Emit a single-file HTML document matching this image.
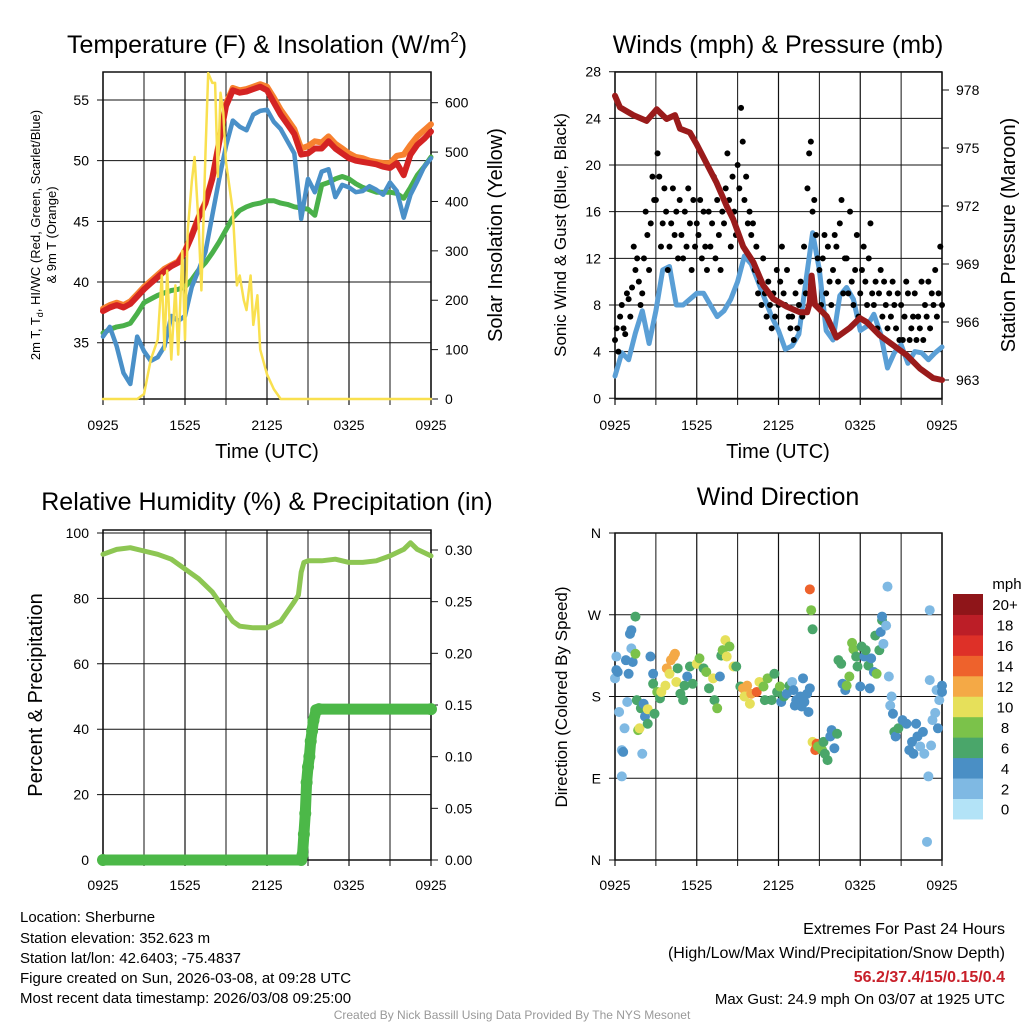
<!DOCTYPE html>
<html><head><meta charset="utf-8"><style>
html,body{margin:0;padding:0;background:#fff}
svg{display:block;font-family:"Liberation Sans",sans-serif}
</style></head><body>
<svg id="chart" width="1024" height="1024" viewBox="0 0 1024 1024" xmlns="http://www.w3.org/2000/svg">
<rect width="1024" height="1024" fill="#fff"/>
<g id="layer"></g>

<text x="267" y="53" font-size="25" text-anchor="middle">Temperature (F) &amp; Insolation (W/m<tspan font-size="15" dy="-11">2</tspan><tspan dy="11">)</tspan></text>
<text x="778" y="53" font-size="25" text-anchor="middle">Winds (mph) &amp; Pressure (mb)</text>
<text x="267" y="510" font-size="25" text-anchor="middle">Relative Humidity (%) &amp; Precipitation (in)</text>
<text x="778" y="505" font-size="25" text-anchor="middle">Wind Direction</text>

<text x="267" y="458" font-size="20" text-anchor="middle">Time (UTC)</text>
<text x="778" y="458" font-size="20" text-anchor="middle">Time (UTC)</text>

<text transform="translate(40,235) rotate(-90)" font-size="13" text-anchor="middle">2m T, T<tspan font-size="9" dy="3">d</tspan><tspan dy="-3">, HI/WC (Red, Green, Scarlet/Blue)</tspan></text>
<text transform="translate(56,235) rotate(-90)" font-size="13" text-anchor="middle">&amp; 9m T (Orange)</text>
<text transform="translate(502,235) rotate(-90)" font-size="20" text-anchor="middle">Solar Insolation (Yellow)</text>
<text transform="translate(566,235) rotate(-90)" font-size="17" text-anchor="middle">Sonic Wind &amp; Gust (Blue, Black)</text>
<text transform="translate(1015,235) rotate(-90)" font-size="20" text-anchor="middle">Station Pressure (Maroon)</text>
<text transform="translate(42,695) rotate(-90)" font-size="20" text-anchor="middle">Percent &amp; Precipitation</text>
<text transform="translate(567,697) rotate(-90)" font-size="17" text-anchor="middle">Direction (Colored By Speed)</text>

<g font-size="15">
<text x="20" y="922">Location: Sherburne</text>
<text x="20" y="943">Station elevation: 352.623 m</text>
<text x="20" y="963">Station lat/lon: 42.6403; -75.4837</text>
<text x="20" y="983">Figure created on Sun, 2026-03-08, at 09:28 UTC</text>
<text x="20" y="1003">Most recent data timestamp: 2026/03/08 09:25:00</text>
</g>
<g font-size="16" text-anchor="end">
<text x="1005" y="934">Extremes For Past 24 Hours</text>
<text x="1005" y="958">(High/Low/Max Wind/Precipitation/Snow Depth)</text>
<text x="1005" y="982" fill="#c8202a" font-weight="bold">56.2/37.4/15/0.15/0.4</text>
<text x="1005" y="1004" font-size="15">Max Gust: 24.9 mph On 03/07 at 1925 UTC</text>
</g>
<text x="512" y="1019" font-size="12" fill="#999" text-anchor="middle">Created By Nick Bassill Using Data Provided By The NYS Mesonet</text>
</svg>
<script>
// ---------- Panel 1 data (half-hourly, hours 0..24) ----------
const tempRed = [37.6,37.9,38.1,37.9,38.2,38.8,39.4,39.9,40.4,40.9,41.3,41.6,42.5,43.8,45.3,46.5,48.5,51.5,54.5,55.8,55.6,55.7,55.9,56.1,55.8,54.8,53.8,53.0,52.2,50.5,50.6,51.0,51.0,51.6,51.0,50.6,50.2,50.0,49.9,49.8,49.7,49.5,49.4,49.8,48.8,50.5,51.3,51.8,52.4];
const tempOrange = [37.8,38.1,38.3,38.1,38.4,39.0,39.6,40.1,40.6,41.1,41.4,41.7,42.6,43.9,45.4,46.6,48.6,51.6,54.7,56.0,55.8,55.9,56.1,56.3,56.1,55.2,54.2,53.4,52.6,51.0,51.2,51.6,51.5,52.0,51.4,51.0,50.6,50.3,50.2,50.0,49.9,49.8,49.8,50.4,50.5,51.3,52.0,52.5,53.0];
const dewGreen = [35.8,36.1,36.3,36.4,36.6,37.4,38.3,38.6,38.9,39.1,39.3,39.4,39.6,40.2,41.0,41.6,42.4,43.3,44.3,45.3,45.9,46.2,46.4,46.5,46.7,46.7,46.5,46.4,46.2,46.1,46.0,45.5,48.0,48.2,48.5,48.7,48.5,48.1,47.8,47.6,47.4,47.4,47.4,47.3,46.9,47.8,48.8,49.5,50.3];
const wcBlue = [35.5,36.3,34.7,32.5,31.6,35.5,34.3,33.5,33.8,34.7,37.2,36.8,37.2,39.6,41.0,42.5,45.5,48.5,51.2,53.3,52.8,52.5,53.8,54.1,54.2,53.2,52.6,51.6,50.6,45.2,48.5,47.4,49.1,49.3,47.0,48.0,47.8,47.4,47.5,47.9,47.6,47.2,48.2,47.5,45.3,47.2,48.3,49.5,50.2];
const solarHours = [0,2.5,3,3.5,4,4.3,4.5,4.7,5,5.3,5.5,5.8,6,6.2,6.5,6.7,7,7.2,7.5,7.7,8,8.2,8.4,8.6,8.8,9,9.3,9.5,9.8,10,10.3,10.5,10.8,11,11.3,11.5,12,12.5,13,24];
const solarValues = [0,0,10,80,120,250,100,260,80,230,90,300,120,340,440,490,350,220,500,660,640,640,450,620,580,480,420,380,230,250,200,180,250,150,210,100,50,20,0,0];
const tempTicks = [35,40,45,50,55];
const solarTicks = [0,100,200,300,400,500,600];
const timeLabels = ["0925","1525","2125","0325","0925"];

// ---------- Panel 2 data ----------
const windSpeed = [1.9,3.9,3.3,5.6,7.5,4.7,7.5,11,11.3,8,8,8.5,9,9,8,7,7.5,8.5,10,12.2,11.5,10,8.5,7,5.8,4.2,4.5,5.5,10,14.2,11,5.8,5,8.8,9.5,8.5,5.8,6.2,7.2,5.5,2.6,3.9,4.6,3,4,3.9,3.3,3.9,4.4];
const gustSpeed = [5,6,4,7,8,6,5.5,9, 8.5,7,9.5,13,11,12,10,8, 9,12,16,14,11,15,19,17, 17,21,19,13,15,18,16,11, 13,15,18,14,16,12,17,14, 12,16,13,18,15,11,17,13, 15,14,17,12,16,13,11,16, 13,15,19,12,17,14,11,16, 15,18,21,17,13,19,16,14, 20,18,24.9,22,17,19,15,16, 14,15,11,13,9,10,8,12, 9,7,10,8,6,9,7,11, 8,10,13,9,8,11,7,6, 7,5,9,6,8,10,7,13, 9,18,21,22,16,17,14,12, 11,8,12,14,9,13,10,8, 11,14,13,10,15,17,9,12, 12,9,16,10,8,11,14,7, 9,11,13,10,8,12,15,9, 8,10,6,9,11,7,10,8, 6,9,7,10,8,6,9,5, 8,5,7,10,9,5,6,7, 9,5,7,6,10,5,8,7, 10,6,9,8,11,7,9,13, 8];
const pressHours = [0,0.37,1.34,2.32,3.06,3.79,4.4,4.77,5.5,5.99,6.72,7.46,8.19,8.68,9.41,10.15,10.88,11.61,12.59,13.57,14.1,14.3,14.43,14.67,15.53,16.26,17.24,17.97,18.46,19.44,20.42,21.39,22.37,23.35,24];
const pressValues = [977.7,977.1,976.7,976.4,977.0,976.5,976.7,976.0,975.8,975.2,974.2,973.2,972.0,971.3,969.9,969.1,967.9,967.2,966.8,966.5,966.5,967.0,968.4,966.9,966.3,965.2,965.7,966.2,966.0,965.3,964.8,964.3,963.6,963.1,963.0];
const windTicks = [0,4,8,12,16,20,24,28];
const pressTicks = [963,966,969,972,975,978];

// ---------- Panel 3 data ----------
const rhHours = [0,1,2,3,4,5,6,7,8,9,9.5,10,11,12,13,13.5,14,14.3,14.5,14.7,15,16,17,18,19,20,21,22,22.5,23,24];
const rhValues = [93.5,95,95.5,94.5,93.5,92,89,86,82,76,73,71.5,71,71,73,76,79,81,88,91,91.5,91.5,92,91,91,91.5,93,95,97,95,93];
const precipHours = [0,14.5,14.6,14.7,14.8,14.9,15.0,15.1,15.2,15.3,15.4,15.6,15.8,24];
const precipValues = [0,0,0.005,0.025,0.045,0.075,0.09,0.1,0.115,0.125,0.135,0.145,0.146,0.146];
const rhTicks = [0,20,40,60,80,100];
const precipTicks = [0,0.05,0.10,0.15,0.20,0.25,0.30];
const precipLabels = ["0.00","0.05","0.10","0.15","0.20","0.25","0.30"];

// ---------- Panel 4 data ----------
const dirHours = [0.0,0.1,0.1,0.2,0.3,0.5,0.6,0.5,0.7,0.8,0.9,1.0,1.1,1.2,1.2,1.3,1.5,1.5,1.6,1.7,1.8,1.9,2.0,2.1,2.2,2.4,2.4,2.6,2.8,2.8,2.9,3.1,3.3,3.4,3.7,3.8,4.0,4.1,4.3,4.4,4.5,4.6,4.8,5.0,5.1,5.3,5.5,5.7,6.0,6.2,6.5,6.7,6.9,7.2,7.3,7.5,7.7,7.8,7.9,8.1,8.2,8.4,8.7,8.9,9.2,9.4,9.5,9.7,9.9,10.0,10.4,10.6,10.9,11.0,11.2,11.5,11.7,11.9,12.1,12.2,12.4,12.6,12.8,13.0,13.1,13.2,13.3,13.6,13.7,13.8,13.9,14.1,14.2,14.3,14.3,14.4,14.5,14.5,14.7,14.8,14.9,15.2,15.3,15.4,15.6,15.8,15.9,16.1,16.3,16.4,16.6,16.7,16.9,17.0,17.2,17.4,17.5,17.7,17.8,18.0,18.1,18.3,18.4,18.6,18.7,18.8,19.0,19.1,19.2,19.4,19.5,19.6,19.6,19.7,19.9,20.0,20.1,20.3,20.2,20.4,20.5,20.6,20.8,21.1,21.4,21.6,21.8,21.9,22.1,22.2,22.4,22.6,22.7,22.9,23.0,23.1,23.1,23.2,23.3,23.5,23.6,23.7,23.8,24.0,24.0];
const dirDegrees = [200,209,224,207,163,121,119,92,145,220,174,205,249,253,233,218,268,227,176,143,145,167,117,172,158,166,150,224,205,194,161,185,178,185,192,211,205,220,224,227,196,211,183,176,192,202,213,194,216,222,211,207,189,200,176,167,202,225,231,242,224,235,213,213,191,189,180,192,172,183,185,196,191,176,200,176,205,185,191,174,180,183,192,196,187,170,176,180,169,200,174,183,163,189,298,275,254,130,121,128,125,121,130,117,110,136,143,123,139,220,216,194,187,192,202,239,232,224,213,191,235,224,231,214,189,222,207,247,205,231,251,264,268,238,258,301,202,180,170,161,141,136,145,154,150,121,130,117,150,136,125,141,117,20,92,275,198,126,154,162,187,145,176,192,185];
const dirSpeeds = [3,5,3,5,3,3,5,3,3,5,3,5,5,5,3,5,7,9,7,9,11,7,3,5,5,11,7,5,5,7,7,9,7,11,11,13,11,13,13,13,11,7,7,7,7,5,7,7,11,9,7,9,7,11,7,9,5,7,9,11,11,9,11,7,7,13,11,13,11,13,15,11,9,7,9,7,7,7,9,5,7,5,7,3,5,5,5,5,5,5,5,5,5,5,15,9,7,11,15,15,9,9,7,7,7,5,5,5,7,7,7,5,5,9,9,9,9,7,7,5,7,5,7,7,5,5,5,7,9,7,5,7,5,3,3,3,3,3,3,5,7,5,7,5,5,5,5,5,5,5,3,5,3,3,3,3,3,3,3,3,3,5,3,5,5,5];
const dirTicks = [0,90,180,270,360];
const dirLabels = ["N","E","S","W","N"];
const speedBins = ["0","2","4","6","8","10","12","14","16","18","20+"];
const binColors = ["#b3e3f7","#7fb9e3","#4a8fc5","#4aa66a","#7bc24a","#e6e05a","#f4a946","#ee622c","#de3028","#bc1e27","#8f1519"];

// ---------- helpers ----------
const NS = "http://www.w3.org/2000/svg";
const layer = document.getElementById('layer');
function mk(tag, attrs, parent){
  const e = document.createElementNS(NS, tag);
  for (const k in attrs) e.setAttribute(k, attrs[k]);
  (parent||layer).appendChild(e);
  return e;
}
function scale(d0,d1,r0,r1){ return v => r0 + (v-d0)/(d1-d0)*(r1-r0); }

const P1 = {x0:103,x1:431,y0:72,y1:399};
const P2 = {x0:615,x1:942,y0:72,y1:399};
const P3 = {x0:103,x1:431,y0:530,y1:860};
const P4 = {x0:615,x1:942,y0:533,y1:860};

function frame(P, name, yL, leftTicks, leftLabels, yR, rightTicks, rightLabels, xLabelY){
  const g = mk('g', {});
  
  
  const xs = scale(0,24,P.x0,P.x1);
  for (let h=0; h<=24; h+=3){
    const l = mk('line',{x1:xs(h),x2:xs(h),y1:P.y0,y2:P.y1+6,stroke:'#111','stroke-width':(h%6===0?1.2:1)},g);
    
    
  }
  for (let i=0;i<5;i++){
    const t = mk('text',{x:xs(i*6),y:xLabelY,'font-size':14,'text-anchor':'middle'},g);
    
    
    t.textContent = timeLabels[i];
  }
  leftTicks.forEach((v,i)=>{
    const y = yL(v);
    const l = mk('line',{x1:P.x0-6,x2:P.x1,y1:y,y2:y,stroke:'#111','stroke-width':1},g);
    
    
    const t = mk('text',{x:P.x0-14,y:y+5,'font-size':14,'text-anchor':'end'},g);
    
    
    t.textContent = leftLabels[i];
  });
  if (yR){
    rightTicks.forEach((v,i)=>{
      const y = yR(v);
      mk('line',{x1:P.x1,x2:P.x1+7,y1:y,y2:y,stroke:'#111','stroke-width':1},g);
      const t = mk('text',{x:P.x1+14,y:y+5,'font-size':14,'text-anchor':'start'},g);
      
      
      t.textContent = rightLabels[i];
    });
  }
  mk('rect',{x:P.x0,y:P.y0,width:P.x1-P.x0,height:P.y1-P.y0,fill:'none',stroke:'#111','stroke-width':1.5},g);
  return xs;
}
function poly(pts, attrs, name){
  const p = mk('polyline', Object.assign({fill:'none','stroke-linejoin':'round','stroke-linecap':'round'}, attrs));
  p.setAttribute('points', pts.map(q=>q[0].toFixed(1)+','+q[1].toFixed(1)).join(' '));
  
  
  return p;
}

// ---------- Panel 1 ----------
{
  const yL = scale(35,55,342.7,100);
  const yR = scale(0,600,399,102.7);
  const xs = frame(P1,'temp',yL,tempTicks,tempTicks.map(String),yR,solarTicks,solarTicks.map(String),430);
  const half = (arr)=>arr.map((v,i)=>[xs(i*0.5), yL(v)]);
  poly(half(tempOrange),{stroke:'#f7812f','stroke-width':6},'temp-9m-orange-line');
  poly(half(tempRed),{stroke:'#d42323','stroke-width':6},'temp-2m-red-line');
  poly(half(dewGreen),{stroke:'#4ab04a','stroke-width':5},'dewpoint-green-line');
  poly(half(wcBlue),{stroke:'#4a90c8','stroke-width':4.5},'windchill-blue-line');
  poly(solarHours.map((h,i)=>[xs(h), yR(solarValues[i])]),{stroke:'#f9e04f','stroke-width':2.5},'solar-yellow-line');
}

// ---------- Panel 2 ----------
{
  const yL = scale(0,28,398.3,71.7);
  const yR = scale(963,978,380,90);
  const xs = frame(P2,'wind',yL,windTicks,windTicks.map(String),yR,pressTicks,pressTicks.map(String),430);
  poly(windSpeed.map((v,i)=>[xs(i*0.5), yL(v)]),{stroke:'#5a9fd6','stroke-width':5},'sonic-wind-blue-line');
  const gg = mk('g',{});
  
  
  gustSpeed.forEach((v,i)=>{
    const c = mk('circle',{cx:xs(i*0.125),cy:yL(v),r:3,fill:'#000'},gg);
    
    
  });
  poly(pressHours.map((h,i)=>[xs(h), yR(pressValues[i])]),{stroke:'#9a1b1b','stroke-width':6},'pressure-maroon-line');
}

// ---------- Panel 3 ----------
{
  const yL = scale(0,100,860,533);
  const yR = scale(0,0.30,860,550);
  const xs = frame(P3,'rh',yL,rhTicks,rhTicks.map(String),yR,precipTicks,precipLabels,890);
  poly(rhHours.map((h,i)=>[xs(h), yL(rhValues[i])]),{stroke:'#8dc653','stroke-width':5},'rh-line');
  poly(precipHours.map((h,i)=>[xs(h), yR(precipValues[i])]),{stroke:'#4cb848','stroke-width':11},'precip-line');
  precipHours.forEach((h,i)=>{
    const c = mk('circle',{cx:xs(h),cy:yR(precipValues[i]),r:6,fill:'#4cb848'});
    
    
  });
}

// ---------- Panel 4 ----------
{
  const yD = scale(0,360,860,533);
  const xs = frame(P4,'wdir',yD,dirTicks,dirLabels,null,null,null,890);
  const gg = mk('g',{});
  
  
  dirHours.forEach((h,i)=>{
    const b = Math.min(10, Math.floor(dirSpeeds[i]/2));
    const c = mk('circle',{cx:xs(h),cy:yD(dirDegrees[i]),r:5,fill:binColors[b]},gg);
    
    
  });
  const lg = mk('g',{});
  
  
  const t0 = mk('text',{x:1007,y:589,'font-size':15,'text-anchor':'middle'},lg);
  t0.textContent = 'mph';
  const bh = 20.45;
  speedBins.forEach((lab,i)=>{
    const k = speedBins.length-1-i;
    const y = 594 + k*bh;
    const r = mk('rect',{x:953,y:y,width:30,height:bh+0.5,fill:binColors[i]},lg);
    
    
    const t = mk('text',{x:1005,y:y+bh/2+6,'font-size':15,'text-anchor':'middle'},lg);
    
    
    t.textContent = lab;
  });
}
</script>
</body></html>
